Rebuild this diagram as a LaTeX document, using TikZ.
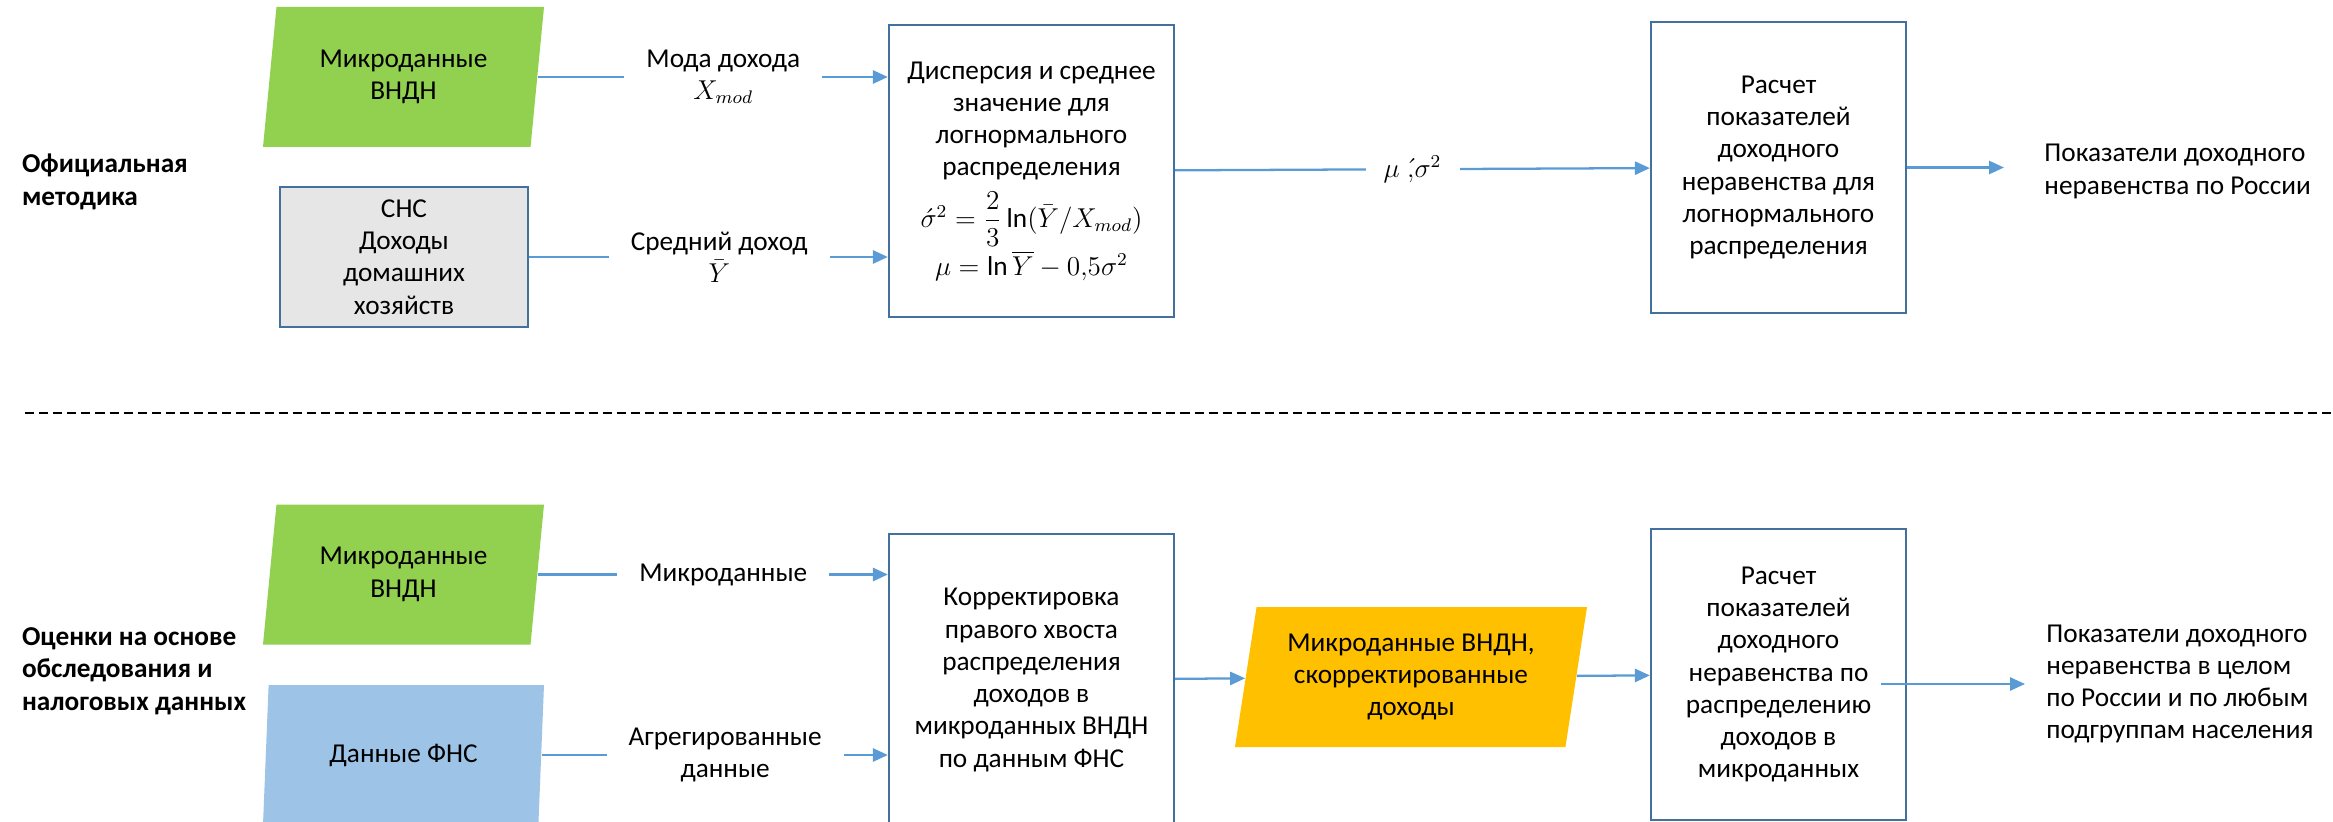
\documentclass[tikz,border=0pt]{standalone}
\usepackage{fontspec}
\setmainfont{Carlito}
\usepackage{amsmath}
\usetikzlibrary{shapes.geometric,arrows.meta}
\providecommand\myunit{0.44pt}
\providecommand\myfont{\fontsize{12}{14.2}\selectfont}
\definecolor{boxline}{HTML}{41719C}
\definecolor{arrline}{HTML}{5B9BD5}
\definecolor{microgreen}{HTML}{92D050}
\definecolor{snsgray}{HTML}{E7E6E6}
\definecolor{fnsblue}{HTML}{9DC3E6}
\definecolor{corrorange}{HTML}{FFC000}

\begin{document}
\begin{tikzpicture}[x=\myunit, y=-\myunit, font=\myfont]
  \tikzstyle{src} = [trapezium, trapezium left angle=76, trapezium right angle=104,
                     trapezium stretches body, minimum width=281*\myunit,
                     minimum height=140*\myunit, inner sep=0pt, align=center]
  \tikzstyle{proc} = [rectangle, draw=boxline, line width=1pt, align=center,
                      minimum width=285*\myunit, minimum height=292*\myunit]
  \tikzstyle{calcbox} = [proc, minimum width=255*\myunit, minimum height=291*\myunit]
  \tikzstyle{arr} = [draw=arrline, line width=1pt, -{Triangle[length=6.6pt, width=5.8pt]}]
  \tikzstyle{lbl} = [fill=white, inner xsep=22*\myunit, align=center]
  \tikzstyle{title} = [anchor=west, align=left, font=\myfont\bfseries]
  \tikzstyle{res} = [anchor=west, align=left]
\clip (0,0) rectangle (2333,822);
\useasboundingbox (0,0) rectangle (2333,822);
\node[title](off) at (14,182){Официальная\\методика};
\node[src, fill=microgreen](micro1) at (403.5,77){Микроданные\\ВНДН};
\node[rectangle, draw=boxline, line width=1pt, fill=snsgray, align=center,
      minimum width=248*\myunit, minimum height=140*\myunit](sns) at (404,257){СНС\\Доходы\\домашних\\хозяйств};
\node[proc](disp) at (1031.5,171){Дисперсия и среднее\\значение для\\логнормального\\распределения\\[4pt]
  $\acute{\sigma}^2=\dfrac{2}{3}\ln(\bar{Y}/X_{mod})$\\[1pt]$\mu=\ln\overline{Y}-0{,}5\sigma^2$};
\node[calcbox](calc1) at (1778.5,167.5){Расчет\\показателей\\доходного\\неравенства для\\логнормального\\распределения};
\node[res, inner xsep=40*\myunit](res1) at (2004,171.5){Показатели доходного\\неравенства по России};
\draw[arr] (micro1.east) -- node[lbl, pos=0.53]{Мода дохода\\$X_{mod}$} (micro1.east -| disp.west);
\draw[arr] (sns.east) -- node[lbl, pos=0.53]{Средний доход\\$\bar{Y}$} (sns.east -| disp.west);
\draw[arr] (disp) -- node[lbl, inner xsep=18*\myunit]{$\mu\;\acute{,}\sigma^2$} (calc1);
\draw[arr] (calc1.east) -- (calc1.east -| res1.west);
\draw[line width=0.9pt, dash pattern=on 4pt off 2.2pt] (25,413) -- (2333,413);
\node[title](est) at (14,671){Оценки на основе\\обследования и\\налоговых данных};
\node[src, fill=microgreen](micro2) at (403.5,574.5){Микроданные\\ВНДН};
\node[src, fill=fnsblue](fns) at (403.5,755){Данные ФНС};
\node[proc](corr) at (1031.5,680){Корректировка\\правого хвоста\\распределения\\доходов в\\микроданных ВНДН\\по данным ФНС};
\node[src, fill=corrorange, minimum width=352*\myunit](corrdata) at (1411,677){Микроданные ВНДН,\\скорректированные\\доходы};
\node[calcbox](calc2) at (1778.5,674.5){Расчет\\показателей\\доходного\\неравенства по\\распределению\\доходов в\\микроданных};
\node[res, inner xsep=21*\myunit](res2) at (2025,684){Показатели доходного\\неравенства в целом\\по России и по любым\\подгруппам населения};
\draw[arr] (micro2.east) -- node[lbl, pos=0.53]{Микроданные} (micro2.east -| corr.west);
\draw[arr] (fns.east) -- node[lbl, pos=0.53]{Агрегированные\\данные} (fns.east -| corr.west);
\draw[arr] (corr) -- (corrdata);
\draw[arr] (corrdata) -- (calc2);
\draw[arr] ([xshift=-26*\myunit]calc2.east |- res2.west) -- (res2.west);
\end{tikzpicture}
\end{document}
